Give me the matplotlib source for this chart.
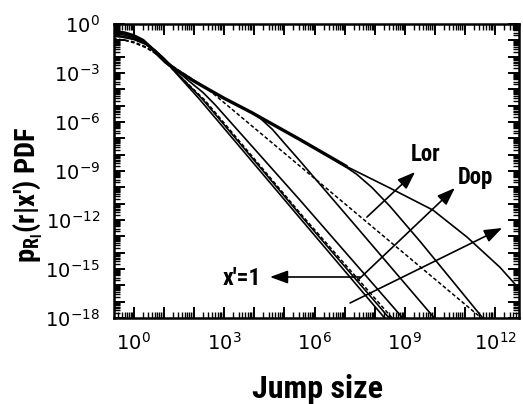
import numpy as np
import matplotlib
matplotlib.use("Agg")
import matplotlib.pyplot as plt
from matplotlib import font_manager as fm
from matplotlib.ticker import LogLocator, FuncFormatter, NullFormatter

names = sorted({f.name for f in fm.fontManager.ttflist})
cond = None
for cand in ['Roboto Condensed', 'Liberation Sans Narrow', 'DejaVu Sans']:
    if cand in names:
        cond = cand
        break

plt.rcParams['mathtext.fontset'] = 'custom'
plt.rcParams['mathtext.rm'] = 'Liberation Sans'
plt.rcParams['mathtext.bf'] = cond + ':bold'
plt.rcParams['mathtext.it'] = cond + ':bold'

# ---- data: log10(jump size) and log10(PDF) ----
a1_lx = [-0.7, -0.4, 0.0, 0.4, 0.7, 1.0, 1.3, 2.2, 5.5, 8.3, 8.7]
a1_ly = [-0.75, -0.8, -0.95, -1.25, -1.65, -2.15, -2.8, -4.65, -11.85, -17.94, -18.8]
a2_lx = [-0.7, -0.4, 0.0, 0.4, 0.7, 1.0, 1.3, 2.3, 5.6, 8.45, 8.85]
a2_ly = [-0.7, -0.75, -0.9, -1.2, -1.6, -2.12, -2.75, -4.65, -11.85, -17.94, -18.8]
a3_lx = [-0.7, -0.3, 0.0, 0.4, 0.8, 1.05, 1.3, 2.35, 5.6, 8.55, 8.9]
a3_ly = [-0.9, -0.98, -1.1, -1.4, -1.9, -2.35, -2.8, -4.65, -11.75, -17.94, -18.7]
b_lx = [-0.7, -0.4, 0.0, 0.4, 0.7, 1.0, 1.3, 1.8, 2.3, 2.7, 5.5, 8.9, 9.3]
b_ly = [-0.6, -0.65, -0.82, -1.2, -1.6, -2.1, -2.65, -3.45, -4.2, -4.95, -10.75, -17.94, -18.8]
f_lx = [-0.7, -0.3, 0.0, 0.3, 0.55, 0.8, 1.05, 1.4, 2.0, 2.5, 3.0, 3.9, 4.2, 5.5, 7.08,
        8.5, 9.93, 11.06, 12.16, 12.79, 13.0]
f_ly = [-0.47, -0.55, -0.72, -1.0, -1.42, -1.88, -2.33, -2.8, -3.5, -4.03, -4.55, -5.41,
        -5.72, -7.06, -8.74, -10.04, -11.39, -13.04, -14.9, -16.2, -16.8]
c_lx = [3.9, 4.2, 4.6, 5.0, 5.5, 7.5, 9.95, 10.3]
c_ly = [-5.41, -5.78, -6.45, -7.3, -8.35, -12.65, -17.94, -18.7]
e_lx = [6.6, 7.0, 7.4, 7.9, 8.5, 9.5, 10.5, 11.56, 11.9]
e_ly = [-8.25, -8.7, -9.2, -10.0, -11.15, -13.3, -15.55, -17.94, -18.7]
d_lx = [-0.7, -0.3, 0.0, 0.4, 0.8, 1.05, 1.5, 2.0, 2.5, 5.5, 11.5, 12.0]
d_ly = [-0.9, -1.0, -1.15, -1.45, -1.9, -2.3, -2.85, -3.45, -4.05, -8.68, -17.94, -18.7]

x_exp_labels = [0, 3, 6, 9, 12]
y_exp_labels = [0, -3, -6, -9, -12, -15, -18]

# annotations (log10 coordinates): (tail, head)
arrow_xp1 = [(7.51, -15.49), (4.52, -15.49)]
arrow_lor = [(7.74, -11.82), (9.34, -9.06)]
arrow_dop = [(7.44, -15.68), (10.66, -10.04)]
arrow_dop2 = [(7.18, -17.08), (12.23, -12.49)]
label_lor = (9.70, -8.02)
label_dop = (11.33, -9.37)
label_xp1 = (3.59, -15.6)

P = lambda v: np.power(10.0, np.asarray(v, dtype=float))

fig = plt.figure(figsize=(5.23, 4.04), dpi=100)
ax = fig.add_axes([114/523, 1-318/404, (519-114)/523, (318-24)/404])

thin = dict(color='black', lw=1.2)
dash = dict(color='black', lw=1.1, ls=(0, (2.5, 1.5)))

ax.plot(P(a1_lx), P(a1_ly), **thin)
ax.plot(P(a2_lx), P(a2_ly), **thin)
ax.plot(P(a3_lx), P(a3_ly), **dash)
ax.plot(P(b_lx), P(b_ly), **thin)
ax.plot(P(d_lx), P(d_ly), **dash)
ax.plot(P(c_lx), P(c_ly), **thin)
ax.plot(P(e_lx), P(e_ly), **thin)
k = f_lx.index(7.08)
ax.plot(P(f_lx[:k+1]), P(f_ly[:k+1]), color='black', lw=2.4, solid_capstyle='butt')
ax.plot(P(f_lx[k:]), P(f_ly[k:]), **thin)

ax.set_xscale('log')
ax.set_yscale('log')
ax.set_xlim(10**-0.66, 10**12.79)
ax.set_ylim(1e-18, 1e0)

def fmt_x(v, pos):
    e = int(round(np.log10(v)))
    return r'$\mathregular{10^{%d}}$' % e if e in x_exp_labels else ''

def fmt_y(v, pos):
    e = int(round(np.log10(v)))
    return r'$\mathregular{10^{%d}}$' % e if e in y_exp_labels else ''

ax.xaxis.set_major_locator(LogLocator(base=10, numticks=40))
ax.xaxis.set_minor_locator(LogLocator(base=10, subs=np.arange(2, 10), numticks=40))
ax.yaxis.set_major_locator(LogLocator(base=10, numticks=40))
ax.yaxis.set_minor_locator(LogLocator(base=10, subs=np.arange(2, 10), numticks=40))
ax.xaxis.set_major_formatter(FuncFormatter(fmt_x))
ax.yaxis.set_major_formatter(FuncFormatter(fmt_y))
ax.xaxis.set_minor_formatter(NullFormatter())
ax.yaxis.set_minor_formatter(NullFormatter())
ax.tick_params(which='both', direction='in', top=True, right=True)
ax.tick_params(which='major', length=8, width=1.4, labelsize=14, pad=10)
ax.tick_params(which='minor', length=4, width=1.0)
for s in ax.spines.values():
    s.set_linewidth(1.8)

lbl = dict(family=[cond, 'DejaVu Sans'], weight='bold')
aprops = dict(arrowstyle='-|>,head_length=0.6,head_width=0.22', color='black', lw=1.2,
              mutation_scale=18, shrinkA=0, shrinkB=0)
for tail, head in (arrow_xp1, arrow_lor, arrow_dop, arrow_dop2):
    ax.annotate('', xy=P(head), xytext=P(tail), arrowprops=aprops)
ax.text(*P(label_lor), 'Lor', ha='center', va='center', fontsize=16.5, **lbl)
ax.text(*P(label_dop), 'Dop', ha='center', va='center', fontsize=16.5, **lbl)
ax.text(*P(label_xp1), "x'=1", ha='center', va='center', fontsize=17, **lbl)

fig.text(317/523, 1-389/404, 'Jump size', ha='center', va='center', fontsize=23, **lbl)
fig.text(28/523, 1-195/404, r"$\mathbf{p_{R_l}}$(r|x') PDF", rotation=90,
         ha='center', va='center', fontsize=20.5, **lbl)

fig.savefig('out.png', dpi=100)
